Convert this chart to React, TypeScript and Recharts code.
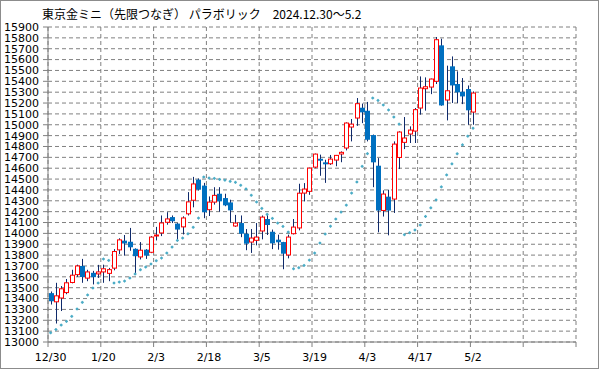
import { ComposedChart, Bar, Scatter, XAxis, YAxis, CartesianGrid } from 'recharts';

// trading days 2024.12.30 - 2025.5.2
const dates = [
  '12/30',
  '1/6', '1/7', '1/8', '1/9', '1/10', '1/14', '1/15', '1/16', '1/17',
  '1/20', '1/21', '1/22', '1/23', '1/24', '1/27', '1/28', '1/29', '1/30', '1/31',
  '2/3', '2/4', '2/5', '2/6', '2/7', '2/10', '2/12', '2/13', '2/14', '2/17',
  '2/18', '2/19', '2/20', '2/21', '2/25', '2/26', '2/27', '2/28', '3/3', '3/4',
  '3/5', '3/6', '3/7', '3/10', '3/11', '3/12', '3/13', '3/14', '3/17', '3/18',
  '3/19', '3/21', '3/24', '3/25', '3/26', '3/27', '3/28', '3/31', '4/1', '4/2',
  '4/3', '4/4', '4/7', '4/8', '4/9', '4/10', '4/11', '4/14', '4/15', '4/16',
  '4/17', '4/18', '4/21', '4/22', '4/23', '4/24', '4/25', '4/28', '4/30', '5/1',
  '5/2',
];

const opens = [
  13450, 13370, 13405, 13455, 13548, 13620, 13700, 13588, 13637, 13627,
  13645, 13632, 13680, 13848, 13933, 13923, 13858, 13783, 13850, 13826,
  13978, 14004, 14102, 14150, 14090, 14060, 14180, 14305, 14495, 14440,
  14218, 14288, 14365, 14325, 14285, 14068, 14095, 13997, 13920, 13936,
  14022, 14132, 14015, 13942, 13920, 13801, 13997, 14050, 14371, 14387,
  14610, 14687, 14654, 14641, 14675, 14731, 14786, 14979, 15062, 15157,
  15129, 14905, 14623, 14211, 14338, 14316, 14699, 14838, 14915, 14942,
  15154, 15332, 15347, 15400, 15731, 15228, 15538, 15375, 15304, 15329,
  15117,
];

const highs = [
  13465, 13545, 13515, 13580, 13665, 13712, 13765, 13665, 13655, 13710,
  13712, 13682, 13855, 13955, 13985, 14050, 13862, 13920, 13855, 13975,
  14060, 14165, 14195, 14165, 14095, 14157, 14380, 14520, 14505, 14465,
  14340, 14425, 14425, 14365, 14310, 14170, 14165, 14040, 14040, 14095,
  14165, 14180, 14035, 13988, 13922, 13988, 14132, 14457, 14463, 14605,
  14735, 14725, 14678, 14722, 14722, 14755, 15022, 15053, 15246, 15195,
  15210, 14910, 14693, 14396, 14402, 14847, 14940, 15071, 14985, 15154,
  15445, 15436, 15425, 15808, 15792, 15544, 15629, 15492, 15430, 15362,
  15307,
];

const lows = [
  13345, 13170, 13285, 13440, 13540, 13600, 13545, 13560, 13530, 13590,
  13545, 13560, 13660, 13810, 13795, 13840, 13625, 13760, 13765, 13818,
  13935, 13975, 14080, 14095, 13930, 13990, 14165, 14240, 14395, 14140,
  14160, 14265, 14200, 14250, 14100, 14060, 13965, 13845, 13820, 13890,
  13945, 13985, 13855, 13850, 13670, 13770, 13990, 14028, 14294, 14355,
  14600, 14530, 14465, 14630, 14618, 14655, 14764, 14847, 14990, 15015,
  14847, 14425, 14010, 14155, 13982, 14188, 14592, 14776, 14832, 14832,
  15093, 15130, 15282, 15375, 15175, 15040, 15200, 15200, 15190, 15000,
  15000,
];

const closes = [
  13375, 13425, 13490, 13545, 13615, 13700, 13598, 13645, 13597, 13645,
  13674, 13666, 13833, 13940, 13907, 13872, 13790, 13845, 13795, 13966,
  13985, 14096, 14133, 14112, 14035, 14142, 14290, 14455, 14402, 14195,
  14288, 14350, 14295, 14258, 14212, 14095, 13997, 13905, 13957, 13966,
  14150, 14077, 13908, 13918, 13813, 13966, 14058, 14370, 14408, 14601,
  14730, 14669, 14636, 14684, 14718, 14746, 15016, 15006, 15194, 15114,
  14862, 14654, 14210, 14362, 14210, 14822, 14933, 14878, 14951, 15139,
  15338, 15350, 15421, 15783, 15178, 15313, 15362, 15298, 15261, 15133,
  15292,
];

const sar = [
  13085, 13115, 13156, 13190, 13236, 13304, 13365, 13433, 13497, 13543,
  13764, 13751, 13543, 13552, 13561, 13589, 13626, 13665, 13690, 13718,
  13748, 13773, 13819, 13874, 13935, 13957, 13996, 14056, 14141, 14519,
  14510, 14506, 14497, 14490, 14479, 14470, 14443, 14409, 14351, 14289,
  14230, 14175, 14138, 14095, 14064, 14012, 13674, 13684, 13705, 13754,
  13819, 13911, 13994, 14066, 14132, 14196, 14260, 14371, 14473, 14617,
  14734, 15246, 15224, 15182, 15136, 15071, 15006, 13988, 14006, 14031,
  14077, 14156, 14235, 14308, 14428, 14538, 14640, 14733, 14815, 14895,
  14968,
];

const yTicks = [
  13000, 13100, 13200, 13300, 13400, 13500, 13600, 13700, 13800, 13900,
  14000, 14100, 14200, 14300, 14400, 14500, 14600, 14700, 14800, 14900,
  15000, 15100, 15200, 15300, 15400, 15500, 15600, 15700, 15800, 15900,
];
const xTicks = [0, 10, 20, 30, 40, 50, 60, 70, 80, 90, 100];

const data = dates.map((d, i) => ({
  x: i + 0.5,
  date: d,
  open: opens[i],
  high: highs[i],
  low: lows[i],
  close: closes[i],
  range: [lows[i], highs[i]],
  sar: sar[i],
}));

const RED = '#ff0000';
const BLUE = '#0070c0';
const WICK = '#0f2a6b';
const DOT = '#4bacc6';
const GRID = '#808080';

function Candle(props: any) {
  const { x, y, width, height, payload } = props;
  if (!payload) return null;
  const { open, close, high, low } = payload;
  const top = Math.min(y, y + height);
  const h = Math.abs(height);
  const k = h / (high - low);
  const cx = Math.round(x + width / 2) + 0.5;
  const yO = top + (high - open) * k;
  const yC = top + (high - close) * k;
  const up = close >= open;
  const bTop = Math.min(yO, yC);
  const bH = Math.max(Math.abs(yO - yC), 1);
  return (
    <g>
      <line x1={cx} x2={cx} y1={top} y2={top + h} stroke={WICK} strokeWidth={1} />
      {up ? (
        <rect x={cx - 2} y={bTop} width={4} height={bH} fill="#fff" stroke={RED} strokeWidth={1} />
      ) : (
        <rect x={cx - 2.5} y={bTop} width={5} height={bH} fill={BLUE} />
      )}
    </g>
  );
}

function SarDot(props: any) {
  const { cx, cy } = props;
  if (cx == null || cy == null) return null;
  return (
    <g fill={DOT}>
      <rect x={cx - 1.5} y={cy - 0.5} width={3} height={1} />
      <rect x={cx - 0.5} y={cy - 1.5} width={1} height={3} />
      <rect x={cx - 1} y={cy - 1} width={2} height={2} />
    </g>
  );
}

function XTick(props: any) {
  const { x, y, payload } = props;
  const label = dates[payload.value] ?? '';
  return (
    <text x={x + 2.6} y={y + 4} dy="0.71em" textAnchor="middle" fontSize={11} fill="#000"
      fontFamily="DejaVu Sans, sans-serif">
      {label}
    </text>
  );
}

export default function App() {
  return (
    <div style={{ position: 'fixed', left: 0, top: 0, width: 599, height: 369, background: '#fff' }}>
      <ComposedChart width={599} height={369} data={data}
        margin={{ top: 27, right: 23, bottom: 0, left: 0 }}>
        <CartesianGrid stroke={GRID} strokeDasharray="4 3" />
        <XAxis dataKey="x" type="number" domain={[0, 100]} ticks={xTicks} interval={0}
          height={27} tick={<XTick />} tickSize={5} stroke={GRID} />
        <YAxis type="number" domain={[13000, 15900]} ticks={yTicks} interval={0} width={48}
          tickSize={5} tickMargin={4} stroke={GRID}
          tick={{ fontSize: 11, fill: '#000', fontFamily: 'DejaVu Sans, sans-serif' }} />
        <Bar dataKey="range" barSize={5} shape={<Candle />} isAnimationActive={false} />
        <Scatter dataKey="sar" shape={<SarDot />} isAnimationActive={false} />
      </ComposedChart>
      <div style={{
        position: 'absolute', left: 42, top: 5, fontSize: 12, lineHeight: '18px',
        fontFamily: '"Noto Sans CJK JP", sans-serif', color: '#000', whiteSpace: 'pre',
      }}>
        東京金ミニ（先限つなぎ） パラボリック　2024.12.30～5.2
      </div>
      <div style={{
        position: 'absolute', left: 0, top: 0, width: 599, height: 369,
        border: '1px solid #8c8c8c', boxSizing: 'border-box', pointerEvents: 'none',
      }} />
    </div>
  );
}
